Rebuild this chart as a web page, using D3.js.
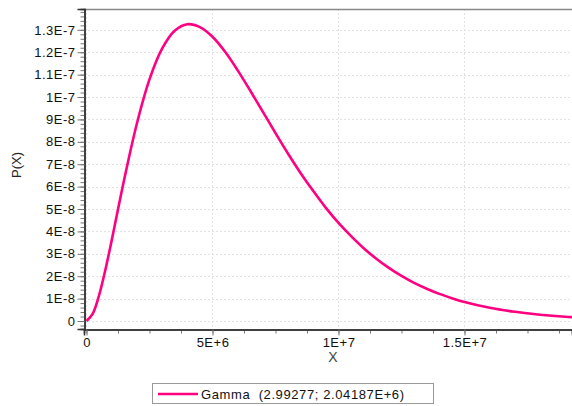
<!DOCTYPE html>
<html>
<head>
<meta charset="utf-8">
<script src="https://cdn.jsdelivr.net/npm/d3@7"></script>
<style>
  body { margin: 0; background: #fff; }
  text { font-family: "Liberation Sans", Arial, sans-serif; }
</style>
</head>
<body>
<svg width="572" height="406"></svg>
<script>
// x in units of 1E+6, p in units of 1E-8
var xVals = [0, 0.25, 0.5, 0.75, 1, 1.5, 2, 2.5, 3, 3.5, 4, 4.5, 5, 5.5, 6, 6.5, 7, 7.5, 8, 8.5, 9, 9.5,
             10, 10.5, 11, 11.5, 12, 12.5, 13, 13.5, 14, 14.5, 15, 16, 17, 18, 19, 19.5];
var pVals = [0, 0.33, 1.15, 2.29, 3.6, 6.34, 8.82, 10.79, 12.16, 12.96, 13.25, 13.12, 12.69, 12.02, 11.19, 10.28, 9.34, 8.39, 7.47, 6.6, 5.8, 5.05,
             4.38, 3.79, 3.25, 2.78, 2.37, 2.01, 1.7, 1.44, 1.21, 1.02, 0.85, 0.59, 0.41, 0.28, 0.19, 0.16];
var yTicks = [0, 1e-8, 2e-8, 3e-8, 4e-8, 5e-8, 6e-8, 7e-8, 8e-8, 9e-8, 1e-7, 1.1e-7, 1.2e-7, 1.3e-7];
var yTickLabels = ["0", "1E-8", "2E-8", "3E-8", "4E-8", "5E-8", "6E-8", "7E-8", "8E-8", "9E-8", "1E-7", "1.1E-7", "1.2E-7", "1.3E-7"];
var xTicks = [0, 5e6, 1e7, 1.5e7];
var xTickLabels = ["0", "5E+6", "1E+7", "1.5E+7"];
var legendLabel = "Gamma  (2.99277; 2.04187E+6)";

var svg = d3.select("svg");
var pLeft = 84, pRight = 572, pTop = 9, pBottom = 329;

var x = d3.scaleLinear().domain([-0.099e6, 19.266e6]).range([pLeft, pRight]);
var y = d3.scaleLinear().domain([-0.357e-8, 13.93e-8]).range([pBottom, pTop]);

// grid
svg.append("g").selectAll("line").data(yTicks).enter().append("line")
  .attr("x1", pLeft).attr("x2", pRight)
  .attr("y1", d => Math.round(y(d)) + 0.5).attr("y2", d => Math.round(y(d)) + 0.5)
  .attr("stroke", "#e2e2e2").attr("stroke-dasharray", "2,2");
svg.append("g").selectAll("line").data(xTicks).enter().append("line")
  .attr("y1", pTop).attr("y2", pBottom)
  .attr("x1", d => Math.round(x(d)) + 0.5).attr("x2", d => Math.round(x(d)) + 0.5)
  .attr("stroke", "#e2e2e2").attr("stroke-dasharray", "2,2");

// top border
svg.append("line").attr("x1", pLeft).attr("x2", pRight).attr("y1", pTop + 0.5).attr("y2", pTop + 0.5)
  .attr("stroke", "#888").attr("stroke-width", 1.5);

// y axis
var yMinor = d3.range(-2e-9, 13.9e-8, 2e-9);
var yAxisMinor = d3.axisLeft(y).tickValues(yMinor).tickSize(4).tickFormat("");
svg.append("g").attr("transform", "translate(" + (pLeft + 0.5) + ",0)").call(yAxisMinor);
var yAxis = d3.axisLeft(y).tickValues(yTicks).tickSize(7).tickPadding(2)
  .tickFormat((d, i) => yTickLabels[i]);
svg.append("g").attr("transform", "translate(" + (pLeft + 0.5) + ",0)").call(yAxis);

// x axis
var xMinor = d3.range(0, 19.3e6, 1.25e6);
var xAxisMinor = d3.axisBottom(x).tickValues(xMinor).tickSize(4).tickFormat("");
svg.append("g").attr("transform", "translate(0," + (pBottom + 0.5) + ")").call(xAxisMinor);
var xAxis = d3.axisBottom(x).tickValues(xTicks).tickSize(6).tickPadding(2)
  .tickFormat((d, i) => xTickLabels[i]);
svg.append("g").attr("transform", "translate(0," + (pBottom + 0.5) + ")").call(xAxis);

svg.selectAll(".domain").attr("stroke", "#333").attr("stroke-width", 1.5);
svg.selectAll(".tick line").attr("stroke", "#777");
svg.selectAll(".tick text").attr("font-size", 13).attr("letter-spacing", "0.5px").attr("fill", "#111");

// clip
svg.append("clipPath").attr("id", "clip").append("rect")
  .attr("x", pLeft).attr("y", pTop).attr("width", pRight - pLeft).attr("height", pBottom - pTop);

var line = d3.line()
  .x((d, i) => x(xVals[i] * 1e6))
  .y((d, i) => y(pVals[i] * 1e-8))
  .curve(d3.curveCatmullRom.alpha(0.5));

svg.append("path").datum(pVals)
  .attr("clip-path", "url(#clip)")
  .attr("d", line)
  .attr("fill", "none")
  .attr("stroke", "#ff0080")
  .attr("stroke-width", 2.6);

// axis titles
svg.append("text").attr("transform", "translate(21,165) rotate(-90)")
  .attr("text-anchor", "middle").attr("font-size", 13).attr("fill", "#222").text("P(X)");
svg.append("text").attr("x", 333).attr("y", 362)
  .attr("text-anchor", "middle").attr("font-size", 14).attr("fill", "#444").text("X");

// legend
var lg = svg.append("g");
lg.append("rect").attr("x", 152.5).attr("y", 383.5).attr("width", 281).attr("height", 20)
  .attr("fill", "#fff").attr("stroke", "#999");
lg.append("line").attr("x1", 158).attr("x2", 198).attr("y1", 394).attr("y2", 394)
  .attr("stroke", "#ff0080").attr("stroke-width", 2.5);
lg.append("text").attr("x", 201).attr("y", 398.5).attr("font-size", 13)
  .attr("letter-spacing", "0.6px").attr("fill", "#111")
  .style("white-space", "pre").text(legendLabel);
</script>
</body>
</html>
